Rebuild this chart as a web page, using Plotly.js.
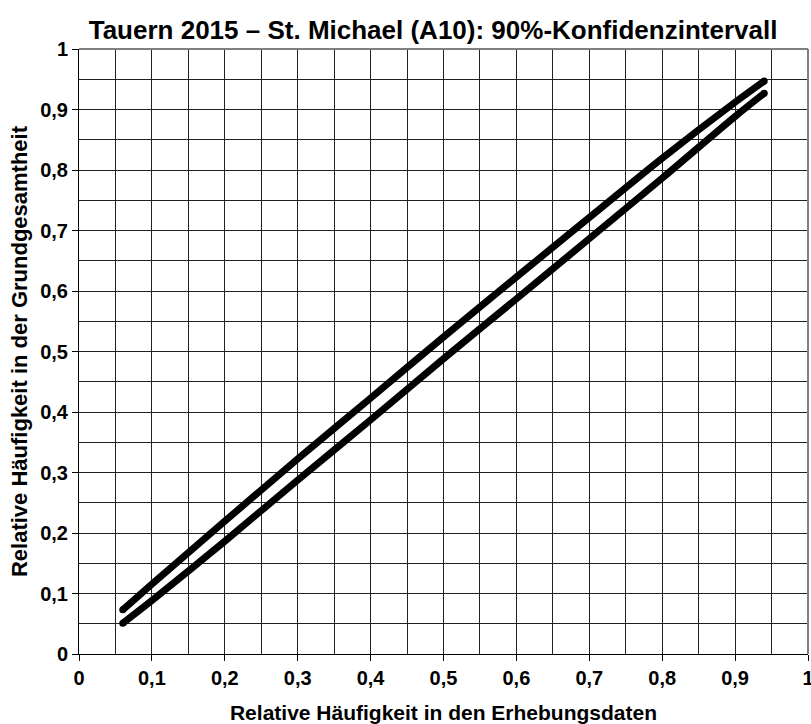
<!DOCTYPE html>
<html>
<head>
<meta charset="utf-8">
<script src="https://cdn.plot.ly/plotly-3.0.1.min.js"></script>
<style>html,body{margin:0;padding:0;background:#fff;}#chart{width:811px;height:724px;}</style>
</head>
<body>
<div id="chart"></div>
<script>
const sampleShare = [0.06, 0.1, 0.2, 0.3, 0.4, 0.5, 0.6, 0.7, 0.8, 0.9, 0.94];
const upperBound = [0.073, 0.1155, 0.2195, 0.3225, 0.423, 0.524, 0.623, 0.7215, 0.8195, 0.912, 0.947];
const lowerBound = [0.051, 0.0885, 0.1865, 0.2875, 0.387, 0.488, 0.587, 0.6865, 0.7865, 0.8885, 0.927];
const tickVals = [0, 0.1, 0.2, 0.3, 0.4, 0.5, 0.6, 0.7, 0.8, 0.9, 1];
const tickText = ['0', '0,1', '0,2', '0,3', '0,4', '0,5', '0,6', '0,7', '0,8', '0,9', '1'];

const font = 'Liberation Sans, Arial, sans-serif';
const lineStyle = {color: '#000', width: 7, shape: 'spline', smoothing: 0.8};
const traces = [
  {x: sampleShare, y: upperBound, mode: 'lines', line: lineStyle, hoverinfo: 'skip', showlegend: false, cliponaxis: false},
  {x: sampleShare, y: lowerBound, mode: 'lines', line: lineStyle, hoverinfo: 'skip', showlegend: false, cliponaxis: false},
  {x: [sampleShare[0], sampleShare[sampleShare.length-1], sampleShare[0], sampleShare[sampleShare.length-1]],
   y: [upperBound[0], upperBound[upperBound.length-1], lowerBound[0], lowerBound[lowerBound.length-1]],
   mode: 'markers', marker: {size: 7, color: '#000', line: {width: 0}}, hoverinfo: 'skip', showlegend: false, cliponaxis: false}
];
const axisCommon = {
  range: [0, 1],
  tickmode: 'array',
  tickvals: tickVals,
  ticktext: tickText.map(t => '<b>' + t + '</b>'),
  ticks: 'outside',
  ticklen: 6,
  tickcolor: '#000',
  tickwidth: 1,
  ticklabeloverflow: 'allow',
  showline: true,
  linecolor: '#000',
  linewidth: 1,
  showgrid: true,
  gridcolor: '#222',
  gridwidth: 1,
  minor: {tickmode: 'array', tickvals: [0.05,0.15,0.25,0.35,0.45,0.55,0.65,0.75,0.85,0.95], showgrid: true, gridcolor: '#222', gridwidth: 1, ticks: ''},
  zeroline: false,
  tickfont: {family: font, size: 20, color: '#000'},
  fixedrange: true
};
const layout = {
  width: 811, height: 724,
  margin: {l: 79, r: 3, t: 49, b: 70},
  paper_bgcolor: '#fff', plot_bgcolor: '#fff',
  separators: ', ',
  title: {text: '<b>Tauern 2015 – St. Michael (A10): 90%-Konfidenzintervall</b>', font: {family: font, size: 26, color: '#000'}, x: 0.534, xanchor: 'center', y: 0.9586, yanchor: 'middle'},
  xaxis: Object.assign({}, axisCommon, {title: {text: '<b>Relative Häufigkeit in den Erhebungsdaten</b>', font: {family: font, size: 21, color: '#000'}, standoff: 18}}),
  yaxis: Object.assign({}, axisCommon, {title: {text: '<b>Relative Häufigkeit in der Grundgesamtheit</b>', font: {family: font, size: 22, color: '#000'}, standoff: 6}}),
  shapes: [
    {type: 'line', xref: 'paper', yref: 'paper', x0: 0, x1: 1, y0: 1, y1: 1, line: {color: '#808080', width: 2}},
    {type: 'line', xref: 'paper', yref: 'paper', x0: 1, x1: 1, y0: 0, y1: 1, line: {color: '#808080', width: 2}}
  ]
};
Plotly.newPlot('chart', traces, layout, {displayModeBar: false, staticPlot: true});
</script>
</body>
</html>
